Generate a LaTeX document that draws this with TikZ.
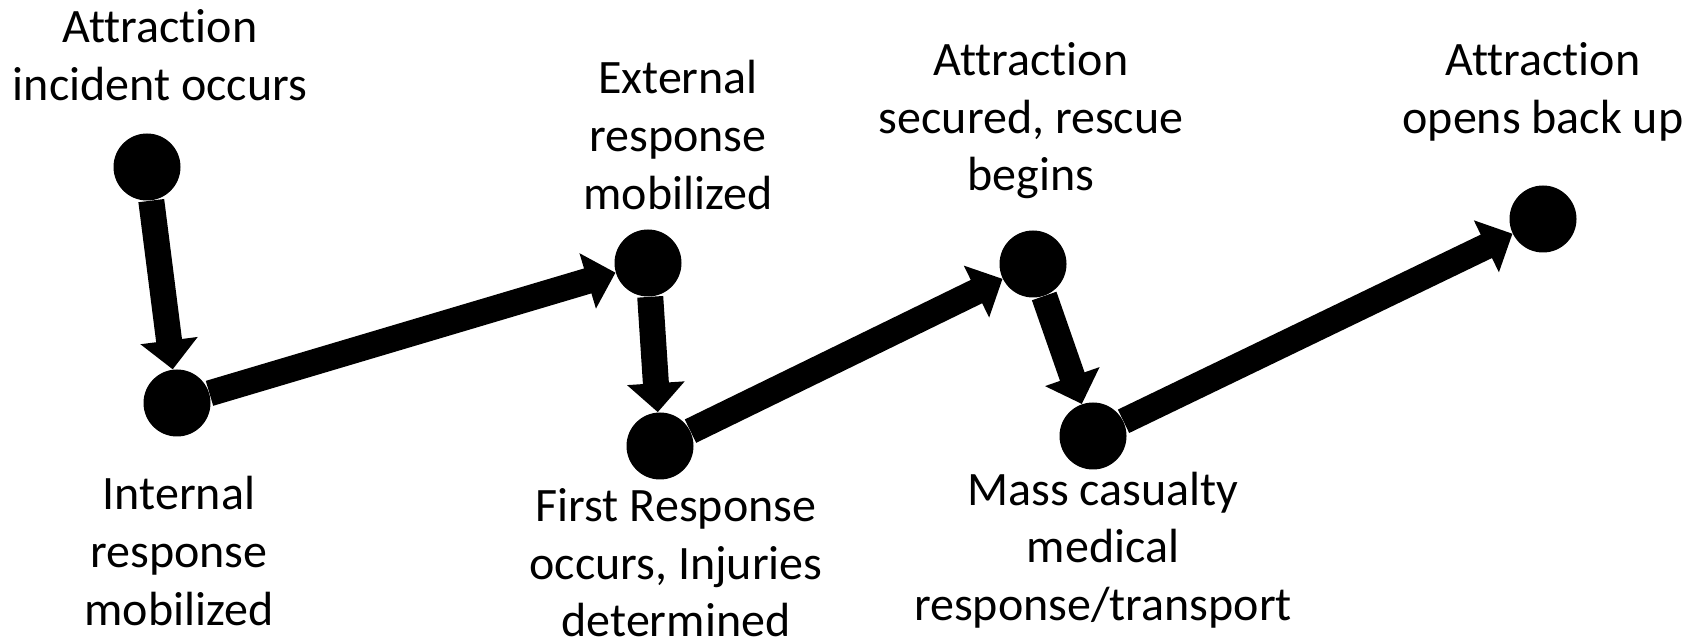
\documentclass[tikz,border=0pt]{standalone}
\usepackage{fontspec}
\setmainfont{Carlito}[Ligatures={NoCommon,NoRare,NoContextual}]
\usetikzlibrary{arrows.meta}
\begin{document}
\begin{tikzpicture}[x=0.5pt,y=-0.5pt,
  dot/.style={circle, fill=black, minimum size=33.5pt, inner sep=0pt},
  flow/.style={line width=13pt, -{Triangle[length=14.5pt,width=28pt]}},
  lbl/.style={align=center, font=\fontsize{24}{28.8}\selectfont, inner sep=0pt}]
\useasboundingbox (0,0) rectangle (1702,640);
\node[dot] (c1) at (147,167) {};
\node[dot] (c2) at (177,403) {};
\node[dot] (c3) at (648,263) {};
\node[dot] (c4) at (660,446) {};
\node[dot] (c5) at (1033,264) {};
\node[dot] (c6) at (1093,436) {};
\node[dot] (c7) at (1543,219) {};
\draw[flow] (c1) -- (c2);
\draw[flow] (c2) -- (c3);
\draw[flow] (c3) -- (c4);
\draw[flow] (c4) -- (c5);
\draw[flow] (c5) -- (c6);
\draw[flow] (c6) -- (c7);
\node[lbl] (t1) at (160,55) {Attraction\\incident occurs};
\node[lbl] (t2) at (179,551) {Internal\\response\\mobilized};
\node[lbl] (t3) at (678,135) {External\\response\\mobilized};
\node[lbl] (t4) at (676,563) {First Response\\occurs, Injuries\\determined};
\node[lbl] (t5) at (1031,121) {Attraction\\secured, rescue\\begins};
\node[lbl] (t6) at (1103,550) {Mass casualty\\medical\\response/transport};
\node[lbl] (t7) at (1543,92) {Attraction\\opens back up};
\end{tikzpicture}
\end{document}
